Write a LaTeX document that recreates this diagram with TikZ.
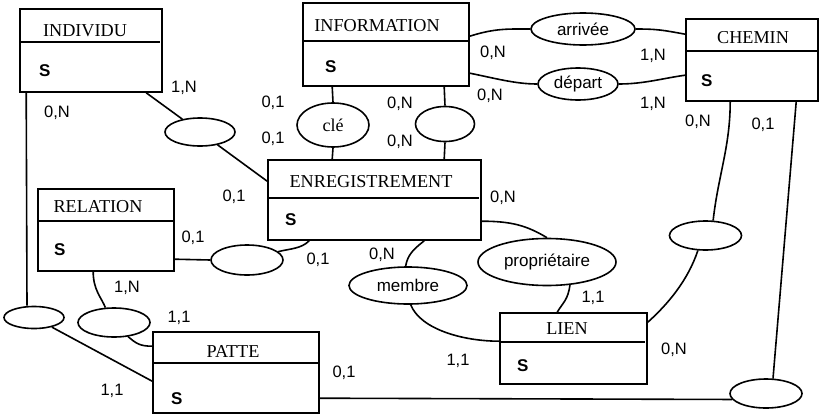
\documentclass[tikz,border=0pt]{standalone}
\usepackage{fontspec}
\setmainfont{Liberation Serif}
\setsansfont{Liberation Sans}
\usetikzlibrary{calc,shapes.geometric}
\tikzset{
  entityBox/.style={draw,line width=1.6pt,rectangle,inner sep=0pt},
  entityName/.style={inner sep=0pt,font=\fontsize{18.2}{20}\selectfont},
  keyAttr/.style={anchor=west,inner sep=0pt,font=\sffamily\bfseries\fontsize{17}{19}\selectfont},
  assoc/.style={draw,line width=1.6pt,ellipse,inner sep=0pt,font=\sffamily\fontsize{17}{19}\selectfont},
  card/.style={inner sep=0pt,font=\sffamily\fontsize{16.5}{18}\selectfont},
  link/.style={line width=1.6pt}
}
\begin{document}
\begin{tikzpicture}[x=1pt,y=-1pt]
\useasboundingbox (0,0) rectangle (821,415);
% entites
\node[entityBox,minimum width=142pt,minimum height=83pt] (individu) at (91,50.5) {};
\node[entityBox,minimum width=166pt,minimum height=83pt] (information) at (386,44.5) {};
\node[entityBox,minimum width=132pt,minimum height=82pt] (chemin) at (752,60) {};
\node[entityBox,minimum width=213pt,minimum height=80pt] (enreg) at (374.5,200) {};
\node[entityBox,minimum width=136pt,minimum height=82pt] (relation) at (106,230) {};
\node[entityBox,minimum width=166pt,minimum height=81pt] (patte) at (236,372.5) {};
\node[entityBox,minimum width=147pt,minimum height=71pt] (lien) at (573.5,348.5) {};
\draw[link] ($(individu.north west)+(0,34)$) -- ($(individu.north east)+(-3,34)$);
\draw[link] ($(information.north west)+(0,39)$) -- ($(information.north east)+(-2,39)$);
\draw[link] ($(chemin.north west)+(0,33)$) -- ($(chemin.north east)+(0,33)$);
\draw[link] ($(enreg.north west)+(0,39)$) -- ($(enreg.north east)+(-3,39)$);
\draw[link] ($(relation.north west)+(0,33)$) -- ($(relation.north east)+(-2,33)$);
\draw[link] ($(patte.north west)+(0,32)$) -- ($(patte.north east)+(-2,32)$);
\draw[link] ($(lien.north west)+(0,30)$) -- ($(lien.north east)+(-3,30)$);
\node[entityName] (individuN) at (85,30.5) {INDIVIDU};
\node[entityName] (informationN) at (377,26) {INFORMATION};
\node[entityName] (cheminN) at (753,38) {CHEMIN};
\node[entityName] (enregN) at (371,181.5) {ENREGISTREMENT};
\node[entityName] (relationN) at (98,207) {RELATION};
\node[entityName] (patteN) at (233,351.5) {PATTE};
\node[entityName] (lienN) at (567,328.5) {LIEN};
\node[keyAttr] (individuS) at (39,71) {S};
\node[keyAttr] (informationS) at (325,67) {S};
\node[keyAttr] (cheminS) at (701,80.5) {S};
\node[keyAttr] (enregS) at (285,220) {S};
\node[keyAttr] (relationS) at (54,250) {S};
\node[keyAttr] (patteS) at (171,398.5) {S};
\node[keyAttr] (lienS) at (517,365.5) {S};
% associations
\node[assoc,minimum width=70pt,minimum height=28pt] (eIE) at (200,132) {};
\node[assoc,minimum width=72pt,minimum height=44pt,font=\fontsize{18}{20}\selectfont] (cle) at (333,125) {clé};
\node[assoc,minimum width=59pt,minimum height=35pt] (eInfo) at (445,124) {};
\node[assoc,minimum width=104pt,minimum height=32pt] (arrivee) at (583,29) {arrivée};
\node[assoc,minimum width=80pt,minimum height=32pt] (depart) at (578,84) {départ};
\node[assoc,minimum width=72pt,minimum height=29pt] (eCL) at (705.5,235.5) {};
\node[assoc,minimum width=72pt,minimum height=29pt] (eBR) at (766,393.5) {};
\node[assoc,minimum width=138pt,minimum height=47pt] (prop) at (547,262) {propriétaire};
\node[assoc,minimum width=118pt,minimum height=37pt] (membre) at (408,285.5) {membre};
\node[assoc,minimum width=72pt,minimum height=30pt] (eRE) at (247,260) {};
\node[assoc,minimum width=72pt,minimum height=29pt] (eRP) at (114,322.5) {};
\node[assoc,minimum width=60pt,minimum height=22pt] (eIP) at (34,317.5) {};
% liens
\draw[link] ($(individu.south west)+(7,0)$) -- ($(eIP.north)+(-7,0)$);
\draw[link] (eIP) -- ($(patte.north west)+(0,50)$);
\draw[link] ($(individu.south west)+(127,0)$) -- (eIE);
\draw[link] (eIE) -- ($(enreg.north west)+(0,22)$);
\draw[link] ($(information.south west)+(30,0)$) -- (cle.north);
\draw[link] (cle.south) -- ($(enreg.north west)+(65,0)$);
\draw[link] ($(information.south west)+(142,0)$) -- (eInfo.north);
\draw[link] (eInfo.south) -- ($(enreg.north west)+(177,0)$);
\draw[link] ($(information.north east)+(0,34)$) .. controls +(25,-8) and +(-22,0) .. (arrivee.west);
\draw[link] (arrivee.east) .. controls +(22,0) and +(-22,-4) .. ($(chemin.north west)+(0,16)$);
\draw[link] ($(information.north east)+(0,71)$) .. controls +(25,5) and +(-22,0) .. (depart.west);
\draw[link] (depart.east) .. controls +(25,0) and +(-22,3) .. ($(chemin.north west)+(0,57)$);
\draw[link] ($(chemin.south west)+(45,0)$) .. controls +(0,45) and +(5,-45) .. (eCL.63);
\draw[link] (eCL.243) .. controls +(-10,30) and +(20,-18) .. ($(lien.north east)+(0,10)$);
\draw[link] ($(chemin.south west)+(111,0)$) -- (eBR.65);
\draw[link] ($(patte.north east)+(0,67)$) -- (eBR.190);
\draw[link] ($(enreg.south west)+(42,0)$) .. controls +(-8,8) and +(12,-3) .. (eRE.15);
\draw[link] ($(relation.north east)+(0,71)$) -- (eRE.west);
\draw[link] ($(relation.south west)+(56,0)$) .. controls +(0,18) and +(-4,-10) .. (eRP.120);
\draw[link] (eRP.-45) .. controls +(8,7) and +(-12,0) .. ($(patte.north west)+(0,15)$);
\draw[link] ($(enreg.south west)+(157,0)$) .. controls +(-10,8) and +(2,-12) .. (membre.97);
\draw[link] (membre.-82) .. controls +(10,25) and +(-35,0) .. ($(lien.north west)+(0,29)$);
\draw[link] ($(enreg.north east)+(0,62)$) .. controls +(30,0) and +(-20,-12) .. (prop.north);
\draw[link] (prop.-45) .. controls +(-2,15) and +(6,-10) .. ($(lien.north west)+(58,0)$);
% cardinalites
\node[card] (c1) at (184,88) {1,N};
\node[card] (c2) at (57,113) {0,N};
\node[card] (c3) at (273,103) {0,1};
\node[card] (c4) at (273,139) {0,1};
\node[card] (c5) at (400,104) {0,N};
\node[card] (c6) at (400,142) {0,N};
\node[card] (c7) at (493,53) {0,N};
\node[card] (c8) at (490,96) {0,N};
\node[card] (c9) at (653,56) {1,N};
\node[card] (c10) at (653,104) {1,N};
\node[card] (c11) at (698,122) {0,N};
\node[card] (c12) at (763,125) {0,1};
\node[card] (c13) at (503,198) {0,N};
\node[card] (c14) at (234,197) {0,1};
\node[card] (c15) at (193,238) {0,1};
\node[card] (c16) at (318,260) {0,1};
\node[card] (c17) at (382,255) {0,N};
\node[card] (c18) at (127,288) {1,N};
\node[card] (c19) at (179,318) {1,1};
\node[card] (c20) at (344,373) {0,1};
\node[card] (c21) at (112,391) {1,1};
\node[card] (c22) at (593,298) {1,1};
\node[card] (c23) at (458,361) {1,1};
\node[card] (c24) at (674,350) {0,N};
\end{tikzpicture}
\end{document}
